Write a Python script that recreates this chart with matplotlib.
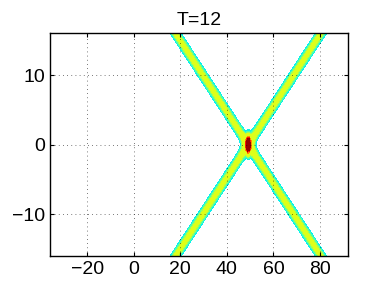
import numpy as np
import matplotlib
matplotlib.use('Agg')
import matplotlib.pyplot as plt

plt.rcParams['font.family'] = ['Liberation Sans', 'DejaVu Sans']

# values
title = 'T=12'
x_range = (-36, 92)
y_range = (-16, 16)
x_ticks = [-20, 0, 20, 40, 60, 80]
y_ticks = [-10, 0, 10]
x_cross = 49.2      # where the two lines meet
slope = 1.95        # dx/dy of each line
width = 2.5         # line width (x units)
peak = 1.2          # extra height at the crossing
peak_sx, peak_sy = 0.7, 1.6
levels = [0.45, 0.6, 0.75, 0.88, 1.55, 1.8, 2.05, 4.0]
shades = [0.36, 0.45, 0.54, 0.62, 0.76, 0.88, 0.98]   # place on jet scale

# field of the two crossing lines
x = np.arange(x_range[0], x_range[1] + 0.5, 0.5)
y = np.arange(y_range[0], y_range[1] + 0.25, 0.25)
X, Y = np.meshgrid(x, y)
u = 1 / np.cosh((X - x_cross - slope * Y) / width) ** 2 \
    + 1 / np.cosh((X - x_cross + slope * Y) / width) ** 2 \
    + peak * np.exp(-((X - x_cross) / peak_sx) ** 2 - (Y / peak_sy) ** 2)

fig = plt.figure(figsize=(3.84, 2.88), dpi=100)
ax = fig.add_axes([0.130, 0.111, 0.776, 0.773])
ax.contourf(X, Y, u, levels=levels, colors=plt.cm.jet(shades))

ax.set_xlim(x_range)
ax.set_ylim(y_range)
ax.set_xticks(x_ticks)
ax.set_yticks(y_ticks)
ax.tick_params(direction='in', labelsize=14, length=3, top=True, right=True)
ax.grid(True, linestyle=(0, (1, 4)), color='k', linewidth=0.6, alpha=0.7)
for s in ax.spines.values():
    s.set_linewidth(1.0)
ax.set_title(title, fontsize=14)

fig.savefig('out.png', dpi=100)
